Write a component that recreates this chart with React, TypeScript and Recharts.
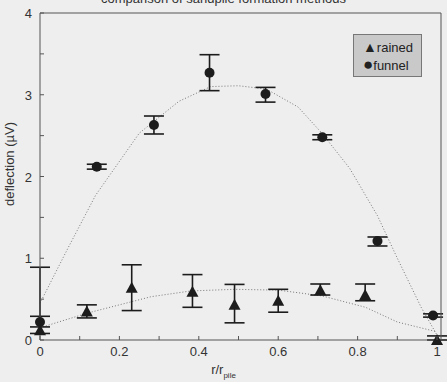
import React from 'react';
import { ComposedChart, XAxis, YAxis, Scatter, Line, ErrorBar } from 'recharts';

// measured points (r/r_pile, deflection in µV) and error offsets [below, above]
const funnelX = [0, 0.143, 0.287, 0.427, 0.568, 0.711, 0.85, 0.99];
const funnelY = [0.22, 2.12, 2.63, 3.27, 3.01, 2.48, 1.21, 0.3];
const funnelErr = [[-0.07, 0.67], [0.03, 0.03], [0.11, 0.11], [0.22, 0.22], [0.1, 0.08], [0.03, 0.03], [0.06, 0.05], [0.02, 0.02]];

const rainedX = [0, 0.118, 0.231, 0.384, 0.49, 0.6, 0.706, 0.819, 1];
const rainedY = [0.12, 0.35, 0.64, 0.59, 0.43, 0.48, 0.61, 0.55, 0];
const rainedErr = [[0.04, 0.04], [0.08, 0.08], [0.28, 0.28], [0.19, 0.21], [0.22, 0.25], [0.14, 0.14], [0.06, 0.075], [0.07, 0.135], [0, 0.05]];

// dotted fit curves
const funnelFitX = [0, 0.07, 0.14, 0.25, 0.35, 0.43, 0.5, 0.57, 0.65, 0.71, 0.78, 0.85, 0.9, 0.96, 1];
const funnelFitY = [0.45, 1.12, 1.77, 2.53, 2.92, 3.1, 3.11, 3.07, 2.85, 2.53, 2.1, 1.52, 1.0, 0.4, 0.06];
const rainedFitX = [0, 0.12, 0.28, 0.38, 0.49, 0.6, 0.71, 0.82, 0.9, 1];
const rainedFitY = [0.15, 0.33, 0.53, 0.6, 0.62, 0.61, 0.54, 0.4, 0.22, 0.1];

const xTicks = [0, 0.1, 0.2, 0.3, 0.4, 0.5, 0.6, 0.7, 0.8, 0.9, 1];
const xLabels = ['0', '', '0.2', '', '0.4', '', '0.6', '', '0.8', '', '1'];
const yTicks = [0, 0.5, 1, 1.5, 2, 2.5, 3, 3.5, 4];
const yLabels = ['0', '', '1', '', '2', '', '3', '', '4'];

const funnel = funnelX.map((x, i) => ({ x, y: funnelY[i], err: funnelErr[i] }));
const rained = rainedX.map((x, i) => ({ x, y: rainedY[i], err: rainedErr[i] }));
const funnelFit = funnelFitX.map((x, i) => ({ x, y: funnelFitY[i] }));
const rainedFit = rainedFitX.map((x, i) => ({ x, y: rainedFitY[i] }));

const FONT = '"Liberation Sans", Arial, sans-serif';
const INK = '#1c1c1c';
const FRAME = '#555';

const BottomTick = (props: any) => {
  const { x, y, index } = props;
  return (
    <g>
      <line x1={x} y1={y} x2={x} y2={y - 4} stroke={FRAME} />
      <text x={x} y={y + 16} textAnchor="middle" fontSize={13} fill="#333" fontFamily={FONT}>
        {xLabels[index]}
      </text>
    </g>
  );
};
const TopTick = (props: any) => <line x1={props.x} y1={props.y} x2={props.x} y2={props.y + 4} stroke={FRAME} />;
const LeftTick = (props: any) => {
  const { x, y, index } = props;
  return (
    <g>
      <line x1={x} y1={y} x2={x + 4} y2={y} stroke={FRAME} />
      <text x={x - 8} y={y + 5} textAnchor="end" fontSize={13} fill="#333" fontFamily={FONT}>
        {yLabels[index]}
      </text>
    </g>
  );
};
const RightTick = (props: any) => <line x1={props.x} y1={props.y} x2={props.x - 4} y2={props.y} stroke={FRAME} />;

const Dot = (props: any) => <circle cx={props.cx} cy={props.cy} r={5} fill={INK} />;
const Tri = (props: any) => {
  const { cx, cy } = props;
  return <polygon points={`${cx},${cy - 6} ${cx - 6},${cy + 5} ${cx + 6},${cy + 5}`} fill={INK} />;
};

export default function App() {
  return (
    <div style={{ position: 'absolute', left: 0, top: 0, width: 447, height: 382, background: '#eeeeee', fontFamily: FONT, color: '#222' }}>
      <div style={{ position: 'absolute', left: 0, width: 447, top: -9, textAlign: 'center', fontSize: 13, color: '#333' }}>
        comparison of sandpile formation methods
      </div>
      <ComposedChart width={447} height={382} margin={{ top: 0, right: 0, bottom: 0, left: 0 }}>
        <XAxis dataKey="x" type="number" domain={[0, 1.01]} ticks={xTicks} height={42} tickSize={0} tickMargin={0}
          tickLine={false} axisLine={{ stroke: FRAME }} tick={<BottomTick />} interval={0} />
        <XAxis xAxisId="top" orientation="top" dataKey="x" type="number" domain={[0, 1.01]} ticks={xTicks} height={13}
          tickSize={0} tickMargin={0} tickLine={false} axisLine={{ stroke: FRAME }} tick={<TopTick />} interval={0} />
        <YAxis type="number" domain={[0, 4]} ticks={yTicks} width={40} tickSize={0} tickMargin={0} tickLine={false}
          axisLine={{ stroke: FRAME }} tick={<LeftTick />} interval={0} />
        <YAxis yAxisId="right" orientation="right" type="number" domain={[0, 4]} ticks={yTicks} width={6} tickSize={0}
          tickMargin={0} tickLine={false} axisLine={{ stroke: FRAME }} tick={<RightTick />} interval={0} />
        <Line data={funnelFit} dataKey="y" stroke="#777" strokeWidth={1} strokeDasharray="1 2" dot={false} type="linear" isAnimationActive={false} />
        <Line data={rainedFit} dataKey="y" stroke="#777" strokeWidth={1} strokeDasharray="1 2" dot={false} type="linear" isAnimationActive={false} />
        <Scatter data={funnel} dataKey="y" shape={<Dot />} isAnimationActive={false}>
          <ErrorBar dataKey="err" direction="y" width={10} stroke={INK} strokeWidth={1.6} />
        </Scatter>
        <Scatter data={rained} dataKey="y" shape={<Tri />} isAnimationActive={false}>
          <ErrorBar dataKey="err" direction="y" width={10} stroke={INK} strokeWidth={1.6} />
        </Scatter>
      </ComposedChart>
      <div style={{ position: 'absolute', left: 3, top: 164, transform: 'translate(-50%, -50%) rotate(-90deg)', marginLeft: 6, fontSize: 13, color: '#333', whiteSpace: 'nowrap' }}>
        deflection (µV)
      </div>
      <div style={{ position: 'absolute', left: 0, width: 447, top: 362, textAlign: 'center', fontSize: 13, color: '#333' }}>
        r/r<sub style={{ fontSize: 8 }}>pile</sub>
      </div>
      <div style={{ position: 'absolute', left: 353, top: 34, width: 69, height: 43, background: '#c9c9c9', border: '1px solid #777', fontSize: 13, lineHeight: '17px', padding: '4px 0 0 9px', boxSizing: 'border-box' }}>
        <div><span style={{ fontSize: 14 }}>▲</span>rained</div>
        <div><span style={{ fontSize: 17 }}>●</span>funnel</div>
      </div>
    </div>
  );
}
